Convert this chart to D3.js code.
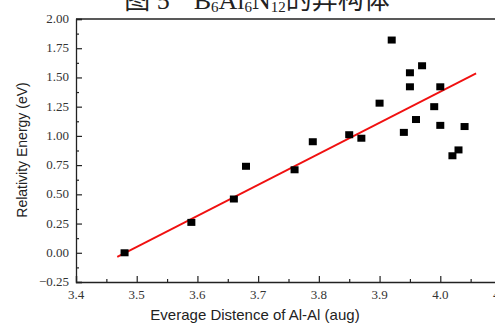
<!DOCTYPE html>
<html>
<head>
<meta charset="utf-8">
<script src="https://cdn.jsdelivr.net/npm/d3@7"></script>
<style>
  body { margin: 0; background: #fff; }
  svg { display: block; }
</style>
</head>
<body>
<div id="chart"></div>
<script>
// Al-Al average distance (x) vs relative energy (y)
const distances = [3.48, 3.59, 3.66, 3.68, 3.76, 3.79, 3.85, 3.87, 3.90, 3.92, 3.94,
                   3.95, 3.95, 3.96, 3.97, 3.99, 4.00, 4.00, 4.02, 4.03, 4.04];
const energies  = [0.00, 0.26, 0.46, 0.74, 0.71, 0.95, 1.01, 0.98, 1.28, 1.82, 1.03,
                   1.54, 1.42, 1.14, 1.60, 1.25, 1.42, 1.09, 0.83, 0.88, 1.08];
// linear fit end points
const fitX = [3.468, 4.059];
const fitY = [-0.035, 1.535];
const xTicks = [3.4, 3.5, 3.6, 3.7, 3.8, 3.9, 4.0, 4.1];
const yTicks = [-0.25, 0, 0.25, 0.5, 0.75, 1.0, 1.25, 1.5, 1.75, 2.0];

const W = 495, H = 325;
const margin = {top: 19, left: 76};
const plotW = 425, plotH = 263;

const svg = d3.select("#chart")
    .append("svg")
    .attr("width", W)
    .attr("height", H);

const x = d3.scaleLinear().domain([3.4, 4.1]).range([margin.left, margin.left + plotW]);
const y = d3.scaleLinear().domain([-0.25, 2.0]).range([margin.top + plotH, margin.top]);

// title (only its lower part shows, as in the scan)
const title = svg.append("text")
    .attr("x", 257)
    .attr("y", 9)
    .attr("text-anchor", "middle")
    .style("font-family", "'Liberation Serif', 'Noto Sans CJK SC', serif")
    .style("font-size", "26px")
    .attr("fill", "#222");
title.append("tspan").text("图 5");
title.append("tspan").attr("dx", 24).text("B");
title.append("tspan").attr("font-size", "15px").attr("dy", 3).text("6");
title.append("tspan").attr("dy", -3).text("Al");
title.append("tspan").attr("font-size", "15px").attr("dy", 3).text("6");
title.append("tspan").attr("dy", -3).text("N");
title.append("tspan").attr("font-size", "15px").attr("dy", 3).text("12");
title.append("tspan").attr("dy", -3).text("的异构体");

// frame top
svg.append("line")
    .attr("x1", margin.left).attr("x2", W)
    .attr("y1", margin.top).attr("y2", margin.top)
    .attr("stroke", "#222").attr("stroke-width", 1.3);

// axes with inward ticks
svg.append("g")
    .attr("transform", `translate(${margin.left},0)`)
    .call(d3.axisRight(y).tickValues(yTicks).tickSize(6).tickFormat(""));
const yMinor = svg.append("g")
    .attr("transform", `translate(${margin.left},0)`)
    .call(d3.axisRight(y).tickValues(d3.range(-0.125, 2.0, 0.25)).tickSize(3).tickFormat(""));
yMinor.select(".domain").remove();

svg.append("g")
    .attr("transform", `translate(0,${margin.top + plotH})`)
    .call(d3.axisTop(x).tickValues(xTicks).tickSize(6).tickFormat(""));
const xMinor = svg.append("g")
    .attr("transform", `translate(0,${margin.top + plotH})`)
    .call(d3.axisTop(x).tickValues(d3.range(3.45, 4.1, 0.1)).tickSize(3).tickFormat(""));
xMinor.select(".domain").remove();

svg.selectAll(".domain").attr("stroke", "#222").attr("stroke-width", 1.3);
svg.selectAll(".tick line").attr("stroke", "#222").attr("stroke-width", 1.2);

// tick labels
svg.append("g").selectAll("text")
    .data(yTicks)
    .enter()
    .append("text")
    .attr("x", 69)
    .attr("y", d => y(d) + 4)
    .attr("text-anchor", "end")
    .style("font-family", "'Liberation Serif', 'DejaVu Serif', serif")
    .style("font-size", "13px")
    .attr("fill", "#333")
    .text(d => d3.format(".2f")(d));

svg.append("g").selectAll("text")
    .data(xTicks)
    .enter()
    .append("text")
    .attr("x", d => x(d))
    .attr("y", 299)
    .attr("text-anchor", "middle")
    .style("font-family", "'Liberation Serif', 'DejaVu Serif', serif")
    .style("font-size", "13px")
    .attr("fill", "#333")
    .text(d => d3.format(".1f")(d));

// axis titles
svg.append("text")
    .attr("transform", "rotate(-90)")
    .attr("x", -150)
    .attr("y", 27)
    .attr("text-anchor", "middle")
    .style("font-family", "'Liberation Sans', Arial, sans-serif")
    .style("font-size", "14px")
    .attr("fill", "#222")
    .text("Relativity Energy (eV)");

svg.append("text")
    .attr("x", 255)
    .attr("y", 320)
    .attr("text-anchor", "middle")
    .style("font-family", "'Liberation Sans', Arial, sans-serif")
    .style("font-size", "15px")
    .attr("fill", "#222")
    .text("Everage Distence of Al-Al (aug)");

// fit line
svg.append("line")
    .attr("x1", x(fitX[0])).attr("y1", y(fitY[0]))
    .attr("x2", x(fitX[1])).attr("y2", y(fitY[1]))
    .attr("stroke", "#f01010")
    .attr("stroke-width", 1.8);

// points
const pts = distances.map((d, i) => ({x: d, y: energies[i]}));
svg.selectAll(".pt")
    .data(pts)
    .enter()
    .append("rect")
    .attr("class", "pt")
    .attr("x", d => x(d.x) - 4)
    .attr("y", d => y(d.y) - 3.5)
    .attr("width", 8)
    .attr("height", 7)
    .attr("fill", "#000");
</script>
</body>
</html>
